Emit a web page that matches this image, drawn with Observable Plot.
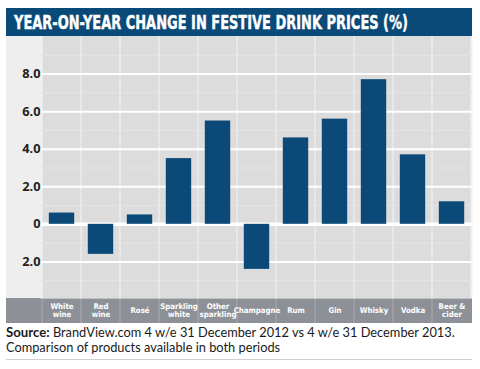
<!DOCTYPE html>
<html>
<head>
<meta charset="utf-8">
<script src="https://cdn.jsdelivr.net/npm/d3@7"></script>
<script src="https://cdn.jsdelivr.net/npm/@observablehq/plot@0.6"></script>
<style>
  body { margin: 0; background: #fff; width: 480px; height: 369px; overflow: hidden; }
  #title { margin: 8px 0 0 6px; width: 466px; height: 28px; background: #0a4a78; overflow: hidden; white-space: nowrap; }
  #title span { display: inline-block; color: #fff; font-family: "Liberation Sans Narrow", "DejaVu Sans Condensed", sans-serif; font-weight: bold; font-size: 19px; line-height: 28px; padding-left: 8px; transform-origin: 8px 50%; -webkit-text-stroke: 0.4px #fff; }
  #chart { margin-left: 6px; width: 466px; height: 287px; }
  #chart svg { display: block; }
  #caption { margin: 2px 0 0 6px; width: 466px; font-family: "Lato", sans-serif; font-size: 12.8px; line-height: 15px; color: #1a1a1a; padding-bottom: 4px; border-bottom: 1px solid #cfcfcf; white-space: nowrap; }
  #caption b { font-size: 13.2px; }
</style>
</head>
<body>
<div id="title"><span id="ttext">YEAR-ON-YEAR CHANGE IN FESTIVE DRINK PRICES (%)</span></div>
<div id="chart"></div>
<div id="caption"><b>Source:</b> BrandView.com 4 w/e 31 December 2012 vs 4 w/e 31 December 2013.<br>Comparison of products available in both periods</div>
<script>
const categories = ["White wine","Red wine","Rosé","Sparkling white","Other sparkling","Champagne","Rum","Gin","Whisky","Vodka","Beer & cider"];
const labels = ["White\nwine","Red\nwine","Rosé","Sparkling\nwhite","Other\nsparkling","Champagne","Rum","Gin","Whisky","Vodka","Beer &\ncider"];
const values = [0.6, -1.6, 0.5, 3.5, 5.5, -2.4, 4.6, 5.6, 7.7, 3.7, 1.2];
const majorTicks = [-2, 0, 2, 4, 6, 8];
const minorTicks = [-3, -1, 1, 3, 5, 7, 9];
const yDomain = [-3.95, 10];

const data = categories.map((c, i) => ({category: c, label: labels[i], value: values[i]}));
const labelOf = new Map(categories.map((c, i) => [c, labels[i]]));
const twoLine = categories.filter((c, i) => labels[i].includes("\n"));
const oneLine = categories.filter((c, i) => !labels[i].includes("\n"));

const chart = Plot.plot({
  width: 466,
  height: 287,
  marginLeft: 34,
  marginRight: 0,
  marginTop: 0,
  marginBottom: 25,
  style: {
    background: "linear-gradient(to bottom, #eeeeee 262px, #8d9197 262px)",
    overflow: "visible"
  },
  x: {domain: categories, padding: 0},
  y: {domain: yDomain},
  marks: [
    Plot.frame({fill: "#f1f1f1", stroke: null}),
    Plot.barY(categories, {x: d => d, y1: yDomain[0], y2: yDomain[1], fill: "#dcdcdc", insetLeft: 0.6, insetRight: 0.6}),
    Plot.ruleY(minorTicks, {stroke: "#e5e5e5", strokeWidth: 1}),
    Plot.ruleY(majorTicks, {stroke: "#ffffff", strokeWidth: 2}),
    Plot.ruleY([0], {stroke: "#ffffff", strokeWidth: 3.5}),
    Plot.barY(data, {x: "category", y: "value", fill: "#0b4a78", insetLeft: 6.8, insetRight: 6.8}),
    Plot.axisY({ticks: majorTicks, tickSize: 0, tickPadding: 0, label: null, tickFormat: d => d === 0 ? "0" : Math.abs(d).toFixed(1), fontSize: 12.8, fontWeight: "bold", fill: "#222", fontFamily: "Open Sans, sans-serif", textAnchor: "end"}),
    Plot.axisX({ticks: twoLine, tickSize: 0, tickPadding: 4.5, tickFormat: d => labelOf.get(d), fontSize: 7.8, fontWeight: "bold", fill: "#fff", fontFamily: "DejaVu Sans Condensed, sans-serif", lineHeight: 1.08, label: null}),
    Plot.axisX({ticks: oneLine, tickSize: 0, tickPadding: 9, tickFormat: d => labelOf.get(d), fontSize: 7.8, fontWeight: "bold", fill: "#fff", fontFamily: "DejaVu Sans Condensed, sans-serif", label: null})
  ]
});
document.getElementById("chart").appendChild(chart);

// band separators in the category strip, placed with the chart's own x scale
const xs = chart.scale("x");
const svgNS = "http://www.w3.org/2000/svg";
categories.forEach(c => {
  const x0 = xs.apply(c);
  const line = document.createElementNS(svgNS, "line");
  line.setAttribute("x1", x0); line.setAttribute("x2", x0);
  line.setAttribute("y1", 262); line.setAttribute("y2", 287);
  line.setAttribute("stroke", "#a9adb2"); line.setAttribute("stroke-width", 1);
  chart.insertBefore(line, chart.firstChild.nextSibling);
});

// fit title to reference width
const t = document.getElementById("ttext");
const w = t.getBoundingClientRect().width - 8;
t.style.transform = `scaleX(${394 / w})`;
</script>
</body>
</html>
